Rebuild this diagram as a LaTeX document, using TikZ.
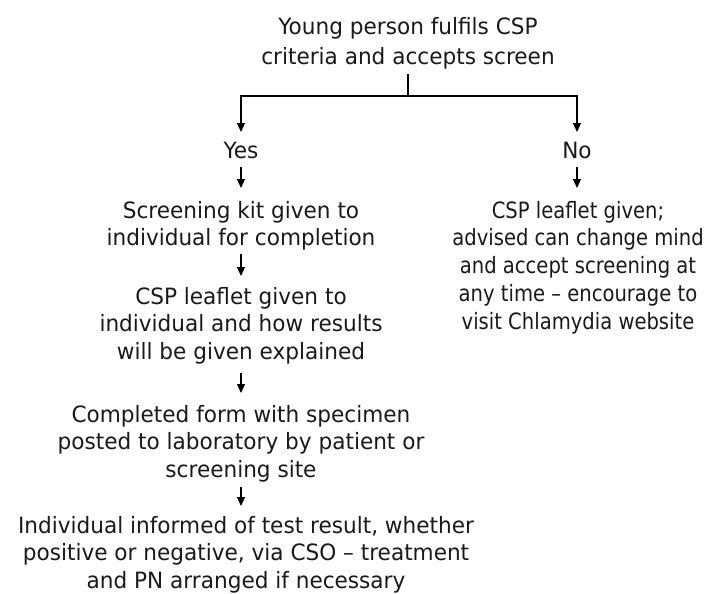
\documentclass[tikz,border=0pt]{standalone}
\usepackage{fontspec}
\setmainfont[FakeStretch=0.96]{DejaVu Sans}
\newfontfamily\narrowsans[FakeStretch=0.87]{DejaVu Sans}
\usetikzlibrary{arrows.meta,positioning,calc}

\begin{document}
\begin{tikzpicture}[x=1pt,y=-1pt,
    txt/.style={align=center, inner sep=0pt, anchor=north, text=black!90,
        font=\fontsize{22.5}{27.5}\selectfont},
    link/.style={line width=1.1pt},
    flow/.style={link, -{Triangle[length=9pt,width=8pt]}}]
    \useasboundingbox (0,0) rectangle (712,594);

    % Question
    \node[txt, font=\fontsize{22.5}{30}\selectfont] (accept) at (408,17) {Young person fulfils CSP\\criteria and accepts screen};
    \node[txt] (yes) at (241,142) {Yes};
    \node[txt] (no) at (577,142) {No};

    % Yes branch
    \node[txt] (kit) at (241,201) {Screening kit given to\\individual for completion};
    \node[txt] (leaflet) at (241,287) {CSP leaflet given to\\individual and how results\\will be given explained};
    \node[txt] (posted) at (241,405) {Completed form with specimen\\posted to laboratory by patient or\\screening site};
    \node[txt] (informed) at (246,516) {Individual informed of test result, whether\\positive or negative, via CSO – treatment\\and PN arranged if necessary};

    % No branch
    \node[txt, font=\narrowsans\fontsize{22.5}{27.7}\selectfont] (advice) at (578,201) {CSP leaflet given;\\advised can change mind\\and accept screening at\\any time – encourage to\\visit Chlamydia website};

    % Connectors
    \coordinate (fork) at (408,96);
    \draw[link] ([yshift=-5pt]accept.south) -- (fork);
    \draw[flow, shorten >=10pt] (fork) -| (yes.north);
    \draw[flow, shorten >=10pt] (fork) -| (no.north);
    \draw[flow, shorten <=8pt, shorten >=13pt] (yes.south) -- (kit.north);
    \draw[flow, shorten <=8pt, shorten >=13pt] (no.south) -- (no.south |- advice.north);
    \draw[flow, shorten <=3pt, shorten >=11pt] (kit.south) -- (leaflet.north);
    \draw[flow, shorten <=9pt, shorten >=12pt] (leaflet.south) -- (posted.north);
    \draw[flow, shorten <=5pt, shorten >=10pt] (posted.south) -- (posted.south |- informed.north);
\end{tikzpicture}
\end{document}
